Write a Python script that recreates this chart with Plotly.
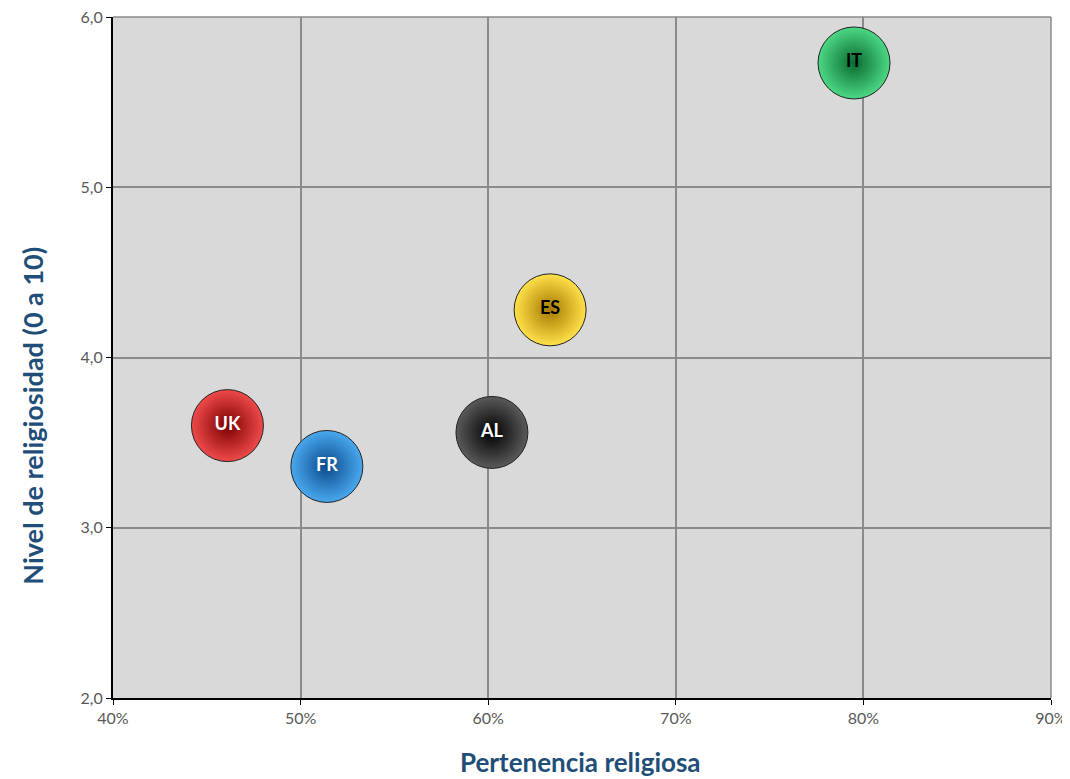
import plotly.graph_objects as go

countries = ["UK", "FR", "AL", "ES", "IT"]
pertenencia = [0.461, 0.514, 0.602, 0.633, 0.795]
nivel = [3.60, 3.36, 3.56, 4.28, 5.73]
center_colors = ["#f04a4a", "#4aa8ee", "#5a5a5a", "#ffe14a", "#4cd884"]
edge_colors = ["#7a0000", "#0a4a8a", "#000000", "#a57800", "#0a6a30"]
text_colors = ["white", "white", "white", "black", "black"]

x_ticks = [0.4, 0.5, 0.6, 0.7, 0.8, 0.9]
y_ticks = [2.0, 3.0, 4.0, 5.0, 6.0]

fig = go.Figure()
for c, x, y, cc, ec, tc in zip(countries, pertenencia, nivel, center_colors, edge_colors, text_colors):
    fig.add_trace(go.Scatter(
        x=[x], y=[y], mode="markers+text", text=[c],
        textposition="middle center",
        textfont=dict(family="Lato, Open Sans, sans-serif", size=18, color=tc, weight="bold"),
        marker=dict(size=72, color=cc,
                    gradient=dict(type="radial", color=ec),
                    line=dict(color="#222222", width=1)),
        showlegend=False, hoverinfo="skip"))

# page body has an 8px margin; size the figure so the plot lands where the reference has it
fig.update_layout(
    width=1062, height=771,
    margin=dict(l=105, r=19, t=9, b=81),
    paper_bgcolor="white", plot_bgcolor="#d9d9d9",
    separators=",.",
    font=dict(family="Lato, Open Sans, sans-serif"),
)
fig.update_xaxes(range=[0.4, 0.9], tickvals=x_ticks, tickformat=".0%",
                 showgrid=True, gridcolor="#8a8a8a", gridwidth=1.5,
                 showline=True, linecolor="black", linewidth=2,
                 ticks="outside", ticklen=5, tickcolor="black",
                 ticklabeloverflow="allow", automargin=False,
                 tickfont=dict(size=16, color="#595959"), zeroline=False)
fig.update_yaxes(range=[2.0, 6.0], tickvals=y_ticks, tickformat=".1f",
                 showgrid=True, gridcolor="#8a8a8a", gridwidth=1.5,
                 showline=True, linecolor="black", linewidth=2,
                 ticks="outside", ticklen=5, tickcolor="black",
                 ticklabeloverflow="allow", automargin=False,
                 tickfont=dict(size=16, color="#595959"), zeroline=False)

fig.add_shape(type="line", xref="paper", yref="paper", x0=0, x1=1, y0=1, y1=1,
              line=dict(color="#8a8a8a", width=1.5))
fig.add_shape(type="line", xref="paper", yref="paper", x0=1, x1=1, y0=0, y1=1,
              line=dict(color="#8a8a8a", width=1.5))

fig.add_annotation(text="<b>Pertenencia religiosa</b>", xref="paper", yref="paper",
                   x=0.498, y=-0.094, yanchor="middle", showarrow=False,
                   font=dict(size=26, color="#1f4e79"))
fig.add_annotation(text="<b>Nivel de religiosidad (0 a 10)</b>", xref="paper", yref="paper",
                   x=-0.086, y=0.415, xanchor="center", yanchor="middle", textangle=-90,
                   showarrow=False, font=dict(size=27, color="#1f4e79"))

fig.write_html("out.html")
